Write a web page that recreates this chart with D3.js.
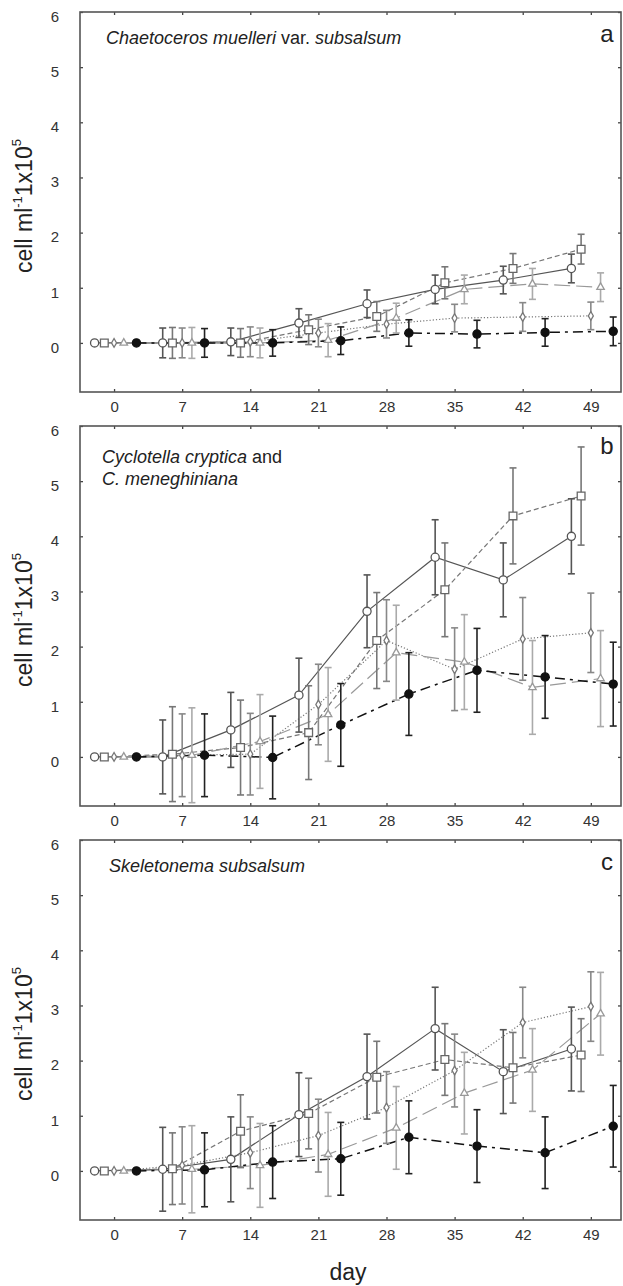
<!DOCTYPE html>
<html><head><meta charset="utf-8">
<script src="https://cdn.jsdelivr.net/npm/d3@7"></script>
<style>body{margin:0;background:#fff} text{font-family:"Liberation Sans",Arial,sans-serif}</style>
</head><body><svg id="c" width="623" height="1286"></svg>
<script>
// ---- data ----
const days = [0, 7, 14, 21, 28, 35, 42, 49];
const xTickValues = [0, 7, 14, 21, 28, 35, 42, 49];
const yTickValues = [0, 1, 2, 3, 4, 5, 6];
const panelLetters = ["a", "b", "c"];

// panel a: Chaetoceros muelleri var. subsalsum
const aCircle      = [0, 0, 0.02, 0.36, 0.71, 0.97, 1.14, 1.35];
const aCircleErr   = [0, 0.27, 0.25, 0.26, 0.25, 0.26, 0.25, 0.26];
const aSquare      = [0, 0, 0, 0.24, 0.48, 1.09, 1.35, 1.70];
const aSquareErr   = [0, 0.28, 0.26, 0.27, 0.27, 0.29, 0.27, 0.27];
const aDiamond     = [0, 0, 0.02, 0.18, 0.34, 0.45, 0.47, 0.49];
const aDiamondErr  = [0, 0.27, 0.27, 0.25, 0.25, 0.25, 0.26, 0.25];
const aTriangle    = [0, 0, 0, 0.05, 0.45, 0.97, 1.07, 1.01];
const aTriangleErr = [0, 0.28, 0.27, 0.30, 0.27, 0.26, 0.28, 0.26];
const aFilled      = [0, 0, 0, 0.04, 0.18, 0.16, 0.19, 0.21];
const aFilledErr   = [0, 0.26, 0.24, 0.25, 0.24, 0.25, 0.25, 0.26];

// panel b: Cyclotella cryptica and C. meneghiniana
const bCircle      = [0, 0, 0.49, 1.12, 2.64, 3.62, 3.21, 4.00];
const bCircleErr   = [0, 0.67, 0.68, 0.67, 0.66, 0.68, 0.67, 0.68];
const bSquare      = [0, 0.05, 0.17, 0.44, 2.11, 3.03, 4.37, 4.73];
const bSquareErr   = [0, 0.86, 0.86, 0.85, 0.87, 0.85, 0.87, 0.89];
const bDiamond     = [0, 0.03, 0.05, 0.95, 2.11, 1.59, 2.14, 2.25];
const bDiamondErr  = [0, 0.75, 0.74, 0.73, 0.74, 0.75, 0.75, 0.72];
const bTriangle    = [0, 0.03, 0.28, 0.77, 1.89, 1.72, 1.26, 1.42];
const bTriangleErr = [0, 0.86, 0.85, 0.85, 0.86, 0.86, 0.85, 0.87];
const bFilled      = [0, 0.03, -0.01, 0.58, 1.14, 1.57, 1.45, 1.32];
const bFilledErr   = [0, 0.75, 0.75, 0.75, 0.75, 0.76, 0.75, 0.76];

// panel c: Skeletonema subsalsum
const cCircle      = [0, 0.03, 0.21, 1.02, 1.71, 2.58, 1.80, 2.21];
const cCircleErr   = [0, 0.76, 0.77, 0.76, 0.77, 0.75, 0.76, 0.76];
const cSquare      = [0, 0.04, 0.72, 1.04, 1.70, 2.02, 1.87, 2.10];
const cSquareErr   = [0, 0.65, 0.66, 0.64, 0.65, 0.65, 0.64, 0.66];
const cDiamond     = [0, 0.10, 0.33, 0.64, 1.15, 1.82, 2.69, 2.98];
const cDiamondErr  = [0, 0.70, 0.65, 0.66, 0.65, 0.66, 0.64, 0.63];
const cTriangle    = [0, 0.03, 0.10, 0.30, 0.78, 1.41, 1.83, 2.85];
const cTriangleErr = [0, 0.79, 0.76, 0.76, 0.75, 0.74, 0.75, 0.75];
const cFilled      = [0, 0.02, 0.16, 0.22, 0.61, 0.45, 0.33, 0.81];
const cFilledErr   = [0, 0.67, 0.66, 0.66, 0.66, 0.66, 0.65, 0.74];

// ---- styles (not data) ----
const seriesStyles = [
  {sym: d3.symbolCircle,   size: 52, fill: "#fff", stroke: "#555", line: "#555", err: "#555", dash: null,        dx: -2},
  {sym: d3.symbolSquare,   size: 60, fill: "#fff", stroke: "#666", line: "#777", err: "#777", dash: "5,3",       dx: -1},
  {sym: d3.symbolDiamond,  size: 22, fill: "#fff", stroke: "#777", line: "#777", err: "#888", dash: "1.2,2",     dx: 0},
  {sym: d3.symbolTriangle, size: 24, fill: "#fff", stroke: "#999", line: "#999", err: "#aaa", dash: "16,6",      dx: 1},
  {sym: d3.symbolCircle,   size: 52, fill: "#111", stroke: "#111", line: "#111", err: "#222", dash: "10,5,3,5",  dx: 2.3}
];

const panels = [
  {top: 12,  vals: [aCircle, aSquare, aDiamond, aTriangle, aFilled], errs: [aCircleErr, aSquareErr, aDiamondErr, aTriangleErr, aFilledErr]},
  {top: 426, vals: [bCircle, bSquare, bDiamond, bTriangle, bFilled], errs: [bCircleErr, bSquareErr, bDiamondErr, bTriangleErr, bFilledErr]},
  {top: 840, vals: [cCircle, cSquare, cDiamond, cTriangle, cFilled], errs: [cCircleErr, cSquareErr, cDiamondErr, cTriangleErr, cFilledErr]}
];

const svg = d3.select("#c");
const L = 80, R = 621, H = 380;
const x = d3.scaleLinear().domain([-3.5, 52.1]).range([L, R]);
const FONT = '"Liberation Sans", Arial, sans-serif';

panels.forEach((p, pi) => {
  const top = p.top, bot = top + H;
  const y = d3.scaleLinear().domain([-0.89, 6]).range([bot, top]);
  const g = svg.append("g");

  // axes with inward ticks
  const ax = g.append("g").attr("transform", `translate(0,${bot})`)
    .call(d3.axisBottom(x).tickValues(xTickValues).tickSizeInner(-3).tickSizeOuter(0).tickPadding(9));
  const ay = g.append("g").attr("transform", `translate(${L},0)`)
    .call(d3.axisLeft(y).tickValues(yTickValues).tickFormat(d3.format("d")).tickSizeInner(-3).tickSizeOuter(0).tickPadding(21));
  g.append("g").attr("transform", `translate(0,${top})`)
    .call(d3.axisTop(x).tickValues(xTickValues).tickFormat("").tickSizeInner(-3).tickSizeOuter(0));
  g.append("g").attr("transform", `translate(${R},0)`)
    .call(d3.axisRight(y).tickValues(yTickValues).tickFormat("").tickSizeInner(-3).tickSizeOuter(0));
  g.selectAll(".domain").remove();
  g.selectAll(".tick line").attr("stroke", "#444").attr("stroke-width", 1.3);
  ax.selectAll("text").attr("font-size", 15).attr("fill", "#333").attr("font-family", FONT);
  ay.selectAll("text").attr("font-size", 15).attr("fill", "#333").attr("font-family", FONT).attr("dy", "0.62em").attr("text-anchor", "middle").attr("x", 55 - L);

  // frame
  g.append("rect").attr("x", L).attr("y", top).attr("width", R - L).attr("height", H)
    .attr("fill", "none").attr("stroke", "#555").attr("stroke-width", 1.6);

  const plot = g.append("g");
  const pts = (si) => days.map((d, i) => ({x: d + seriesStyles[si].dx, v: p.vals[si][i], e: p.errs[si][i]}));

  // lines
  seriesStyles.forEach((s, si) => {
    const line = d3.line().x(d => x(d.x)).y(d => y(d.v));
    plot.append("path").datum(pts(si)).attr("d", line)
      .attr("fill", "none").attr("stroke", s.line).attr("stroke-width", si === 4 ? 1.5 : 1.2)
      .attr("stroke-dasharray", s.dash);
  });
  // error bars
  seriesStyles.forEach((s, si) => {
    const eb = plot.append("g").attr("stroke", s.err).attr("stroke-width", 1.6).attr("fill", "none");
    pts(si).filter(d => d.e > 0).forEach(d => {
      const cx = x(d.x), y1 = y(d.v + d.e), y2 = y(d.v - d.e);
      eb.append("line").attr("x1", cx).attr("x2", cx).attr("y1", y1).attr("y2", y2);
      eb.append("line").attr("x1", cx - 3.5).attr("x2", cx + 3.5).attr("y1", y1).attr("y2", y1);
      eb.append("line").attr("x1", cx - 3.5).attr("x2", cx + 3.5).attr("y1", y2).attr("y2", y2);
    });
  });
  // markers
  seriesStyles.forEach((s, si) => {
    plot.append("g").selectAll("path").data(pts(si)).join("path")
      .attr("transform", d => `translate(${x(d.x)},${y(d.v)})`)
      .attr("d", d3.symbol().type(s.sym).size(s.size))
      .attr("fill", s.fill).attr("stroke", s.stroke).attr("stroke-width", 1.3);
  });

  // panel letter
  g.append("text").attr("x", 607).attr("y", top + (pi === 1 ? 28 : 30)).attr("text-anchor", "middle")
    .attr("font-size", 24).attr("fill", "#222").text(panelLetters[pi]);

  // y-axis label
  const yl = g.append("text").attr("transform", `translate(32,${(top + bot) / 2 + 4}) rotate(-90)`)
    .attr("text-anchor", "middle").attr("font-size", 23).attr("fill", "#222");
  yl.append("tspan").text("cell ml");
  yl.append("tspan").attr("font-size", 13).attr("dy", -10).text("-1");
  yl.append("tspan").attr("dy", 10).text("1x10");
  yl.append("tspan").attr("font-size", 13).attr("dy", -11).text("5");
});

// titles
function title(xp, yp, parts) {
  const t = svg.append("text").attr("x", xp).attr("y", yp).attr("font-size", 18).attr("fill", "#222");
  parts.forEach(([s, it]) => t.append("tspan").attr("font-style", it ? "italic" : "normal").text(s));
}
title(106, 44, [["Chaetoceros muelleri", true], [" var. ", false], ["subsalsum", true]]);
title(102, 463, [["Cyclotella cryptica", true], [" and", false]]);
title(102, 485, [["C. meneghiniana", true]]);
title(109, 872, [["Skeletonema subsalsum", true]]);

// x-axis label
svg.append("text").attr("x", 348).attr("y", 1280).attr("text-anchor", "middle")
  .attr("font-size", 23).attr("fill", "#222").text("day");
</script></body></html>
